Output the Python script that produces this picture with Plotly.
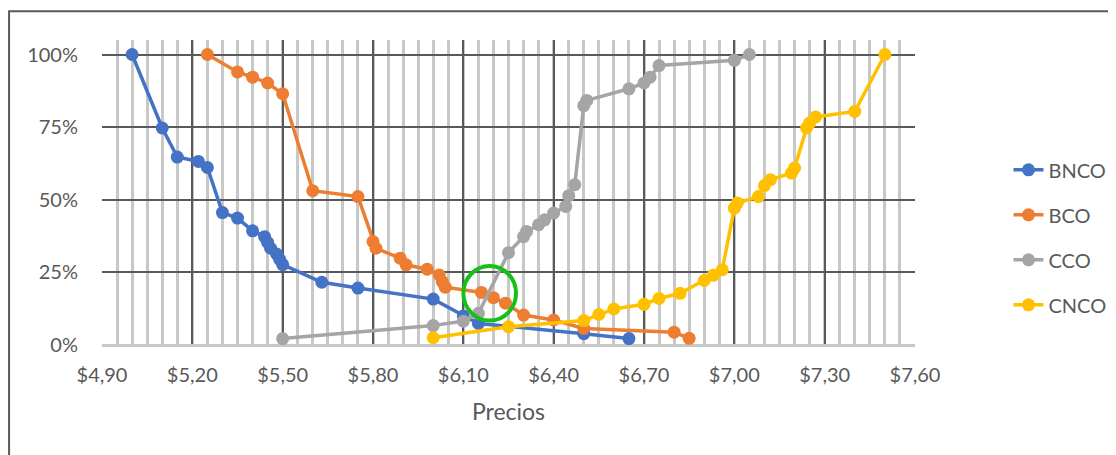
import plotly.graph_objects as go

# ---- data ----
bnco_x = [5.00, 5.10, 5.15, 5.22, 5.25, 5.30, 5.35, 5.40, 5.44, 5.45, 5.46, 5.48, 5.49, 5.50,
          5.63, 5.75, 6.00, 6.10, 6.15, 6.50, 6.65]
bnco_y = [1.00, 0.747, 0.647, 0.632, 0.611, 0.456, 0.437, 0.393, 0.373, 0.353, 0.333, 0.313, 0.295, 0.277,
          0.216, 0.196, 0.158, 0.100, 0.074, 0.039, 0.022]

bco_x = [5.25, 5.35, 5.40, 5.45, 5.50, 5.60, 5.75, 5.80, 5.81, 5.89, 5.91, 5.98, 6.02, 6.03, 6.04,
         6.16, 6.20, 6.24, 6.30, 6.40, 6.50, 6.80, 6.85]
bco_y = [1.00, 0.940, 0.922, 0.902, 0.865, 0.531, 0.511, 0.356, 0.333, 0.299, 0.276, 0.261, 0.241, 0.218, 0.199,
         0.181, 0.163, 0.144, 0.103, 0.086, 0.057, 0.044, 0.023]

cco_x = [5.50, 6.00, 6.10, 6.15, 6.25, 6.30, 6.31, 6.35, 6.37, 6.40, 6.44, 6.45, 6.47, 6.50, 6.51,
         6.65, 6.70, 6.72, 6.75, 7.00, 7.05]
cco_y = [0.022, 0.067, 0.082, 0.109, 0.318, 0.373, 0.391, 0.414, 0.431, 0.454, 0.477, 0.514, 0.552, 0.824, 0.842,
         0.882, 0.902, 0.922, 0.962, 0.980, 1.00]

cnco_x = [6.00, 6.25, 6.50, 6.55, 6.60, 6.70, 6.75, 6.82, 6.90, 6.93, 6.96, 7.00, 7.01, 7.08, 7.10, 7.12,
          7.19, 7.20, 7.24, 7.25, 7.27, 7.40, 7.50]
cnco_y = [0.025, 0.063, 0.084, 0.105, 0.124, 0.140, 0.160, 0.178, 0.222, 0.240, 0.259, 0.471, 0.489, 0.511, 0.549, 0.569,
          0.592, 0.609, 0.747, 0.764, 0.785, 0.804, 1.00]

series_names = ["BNCO", "BCO", "CCO", "CNCO"]
series_colors = ["#4472C4", "#ED7D31", "#A5A5A5", "#FFC000"]

x_tickvals = [4.90, 5.20, 5.50, 5.80, 6.10, 6.40, 6.70, 7.00, 7.30, 7.60]
x_ticktext = ["$4,90", "$5,20", "$5,50", "$5,80", "$6,10", "$6,40", "$6,70", "$7,00", "$7,30", "$7,60"]
y_tickvals = [0, 0.25, 0.5, 0.75, 1.0]
y_ticktext = ["0%", "25%", "50%", "75%", "100%"]

# highlight circle (approximate data-space extent)
circle_x = [6.10, 6.275]
circle_y = [0.084, 0.272]

FONT = "Lato"
TXT = "#595959"

fig = go.Figure()
data = [(bnco_x, bnco_y), (bco_x, bco_y), (cco_x, cco_y), (cnco_x, cnco_y)]
for (xs, ys), name, col in zip(data, series_names, series_colors):
    fig.add_trace(go.Scatter(
        x=xs, y=ys, name=name, mode="lines+markers", legendgroup=name,
        line=dict(color=col, width=3.5),
        marker=dict(color=col, size=13, line=dict(width=0)),
    ))

fig.update_layout(
    width=1116, height=455,
    margin=dict(l=94, r=209, t=32, b=118),
    paper_bgcolor="white", plot_bgcolor="white",
    font=dict(family=FONT, size=20, color=TXT),
    showlegend=True,
    legend=dict(x=1.115, xanchor="left", y=0.353, yanchor="middle",
                font=dict(family=FONT, size=20, color=TXT),
                tracegroupgap=16, bgcolor="rgba(0,0,0,0)"),
    xaxis=dict(
        range=[4.90, 7.60], tickvals=x_tickvals, ticktext=x_ticktext,
        showgrid=True, gridcolor="#595959", gridwidth=2,
        minor=dict(dtick=0.05, tick0=4.90, showgrid=True, gridcolor="#C8C8C8", gridwidth=2.5, ticks=""),
        zeroline=False, showline=False, ticks="", ticklabelstandoff=16,
        tickfont=dict(family=FONT, size=20, color=TXT),
        title=dict(text="Precios", font=dict(family=FONT, size=23, color=TXT), standoff=18),
    ),
    yaxis=dict(
        range=[0, 1.05], tickvals=y_tickvals, ticktext=y_ticktext,
        showgrid=True, gridcolor="#595959", gridwidth=2,
        zeroline=True, zerolinecolor="#C8C8C8", zerolinewidth=3,
        showline=False, ticks="", ticklabelstandoff=23,
        tickfont=dict(family=FONT, size=20, color=TXT),
    ),
    shapes=[
        dict(type="circle", xref="x", yref="y",
             x0=circle_x[0], x1=circle_x[1], y0=circle_y[0], y1=circle_y[1],
             line=dict(color="#16C016", width=4), layer="above"),
        dict(type="rect", xref="paper", yref="paper",
             x0=-0.1143, x1=1.5, y0=-0.6, y1=1.0946,
             line=dict(color="#595959", width=2), layer="above"),
    ],
)

fig.write_html("out.html")
